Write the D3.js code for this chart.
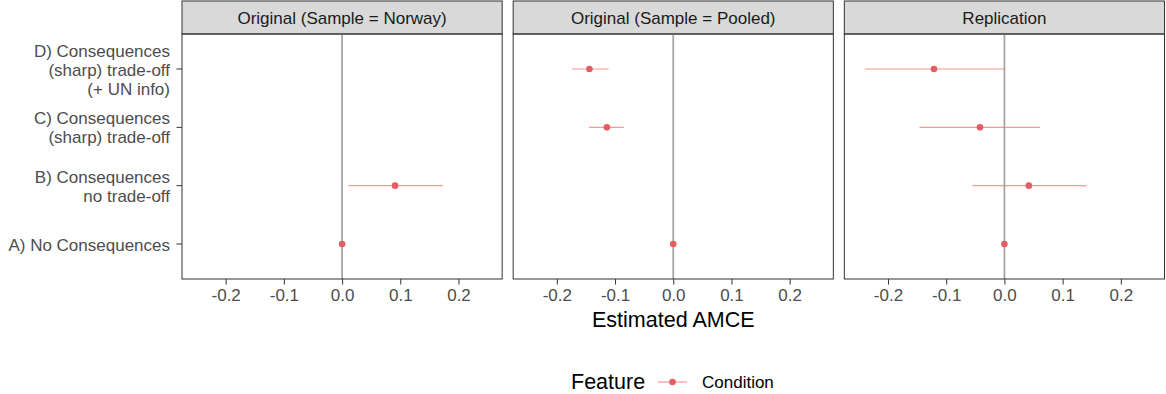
<!DOCTYPE html>
<html>
<head>
<meta charset="utf-8">
<script src="https://cdn.jsdelivr.net/npm/d3@7"></script>
<style>
  body { margin: 0; background: #fff; }
  text { font-family: "Liberation Sans", Arial, sans-serif; }
</style>
</head>
<body>
<div id="chart"></div>
<script>
// levels, bottom to top
var levels = ["A) No Consequences", "B) Consequences\nno trade-off",
  "C) Consequences\n(sharp) trade-off", "D) Consequences\n(sharp) trade-off\n(+ UN info)"];
var panels = ["Original (Sample = Norway)", "Original (Sample = Pooled)", "Replication"];
var xTicks = [-0.2, -0.1, 0.0, 0.1, 0.2];

// estimates per panel, in level order (null = not estimated)
var norwayEst = [0, 0.091, null, null];
var norwayLo = [null, 0.011, null, null];
var norwayHi = [null, 0.173, null, null];

var pooledEst = [0, null, -0.114, -0.144];
var pooledLo = [null, null, -0.145, -0.174];
var pooledHi = [null, null, -0.085, -0.111];

var replEst = [0, 0.042, -0.042, -0.121];
var replLo = [null, -0.055, -0.146, -0.240];
var replHi = [null, 0.141, 0.061, 0.001];

var panelData = [
  [norwayEst, norwayLo, norwayHi],
  [pooledEst, pooledLo, pooledHi],
  [replEst, replLo, replHi]
];

var W = 1166, H = 394;
var left = 182, right = 1164.5, gap = 11;
var stripTop = 1, plotTop = 34, plotBottom = 279;
var pw = (right - left - 2 * gap) / 3;
var col = "#F8766D";
var fs = "17px";

var svg = d3.select("#chart").append("svg")
  .attr("width", W).attr("height", H);

var x = d3.scaleLinear().domain([-0.275, 0.275]).range([0, pw]);
var y = d3.scalePoint().domain(levels.slice().reverse())
  .range([plotTop, plotBottom]).padding(0.6);

// y axis labels
var yl = svg.append("g");
levels.forEach(function (lab) {
  var lines = lab.split("\n");
  var cy = y(lab);
  var t = yl.append("text")
    .attr("text-anchor", "end")
    .attr("fill", "#4D4D4D")
    .style("font-size", fs);
  lines.forEach(function (ln, i) {
    t.append("tspan")
      .attr("x", 170)
      .attr("y", cy + (i - (lines.length - 1) / 2) * 19 + 6.5)
      .text(ln);
  });
  yl.append("line")
    .attr("x1", left - 5.5).attr("x2", left)
    .attr("y1", cy).attr("y2", cy)
    .attr("stroke", "#333").attr("stroke-width", 1);
});

panels.forEach(function (name, p) {
  var ox = left + p * (pw + gap);
  var g = svg.append("g").attr("transform", "translate(" + ox + ",0)");
  var est = panelData[p][0], lo = panelData[p][1], hi = panelData[p][2];

  // strip
  g.append("rect")
    .attr("x", 0).attr("y", stripTop)
    .attr("width", pw).attr("height", plotTop - stripTop)
    .attr("fill", "#D9D9D9").attr("stroke", "#333").attr("stroke-width", 1);
  g.append("text")
    .attr("x", pw / 2).attr("y", (stripTop + plotTop) / 2 + 6)
    .attr("text-anchor", "middle")
    .attr("fill", "#1A1A1A")
    .style("font-size", fs)
    .text(name);

  // zero line
  g.append("line")
    .attr("x1", x(0)).attr("x2", x(0))
    .attr("y1", plotTop).attr("y2", plotBottom)
    .attr("stroke", "#A6A6A6").attr("stroke-width", 1.8);

  // intervals and points
  levels.forEach(function (lab, i) {
    if (est[i] === null) return;
    if (lo[i] !== null) {
      g.append("line")
        .attr("x1", x(lo[i])).attr("x2", x(hi[i]))
        .attr("y1", y(lab)).attr("y2", y(lab))
        .attr("stroke", col).attr("stroke-opacity", 0.75).attr("stroke-width", 1.2);
    }
    g.append("circle")
      .attr("cx", x(est[i])).attr("cy", y(lab))
      .attr("r", 3.3).attr("fill", "#E35D63");
  });

  // x axis
  var ax = g.append("g").attr("transform", "translate(0," + plotBottom + ")")
    .call(d3.axisBottom(x).tickValues(xTicks)
      .tickFormat(function (d) { return d3.format(".1f")(d).replace("\u2212", "-"); })
      .tickSize(5.5).tickPadding(4));
  ax.select(".domain").remove();
  ax.selectAll("line").attr("stroke", "#333");
  ax.selectAll("text").attr("fill", "#4D4D4D").style("font-size", fs)
    .attr("font-family", null);

  // border
  g.append("rect")
    .attr("x", 0).attr("y", plotTop)
    .attr("width", pw).attr("height", plotBottom - plotTop)
    .attr("fill", "none").attr("stroke", "#333").attr("stroke-width", 1);
});

// axis title
svg.append("text")
  .attr("x", (left + right) / 2).attr("y", 327)
  .attr("text-anchor", "middle")
  .attr("fill", "#000")
  .style("font-size", "21.5px")
  .text("Estimated AMCE");

// legend
var lg = svg.append("g");
lg.append("text")
  .attr("x", 571).attr("y", 389)
  .attr("fill", "#000")
  .style("font-size", "21.5px")
  .text("Feature");
lg.append("line")
  .attr("x1", 658).attr("x2", 687)
  .attr("y1", 382).attr("y2", 382)
  .attr("stroke", col).attr("stroke-opacity", 0.75).attr("stroke-width", 1.2);
lg.append("circle")
  .attr("cx", 672.5).attr("cy", 382).attr("r", 3.3).attr("fill", "#E35D63");
lg.append("text")
  .attr("x", 702).attr("y", 388)
  .attr("fill", "#000")
  .style("font-size", fs)
  .text("Condition");
</script>
</body>
</html>
